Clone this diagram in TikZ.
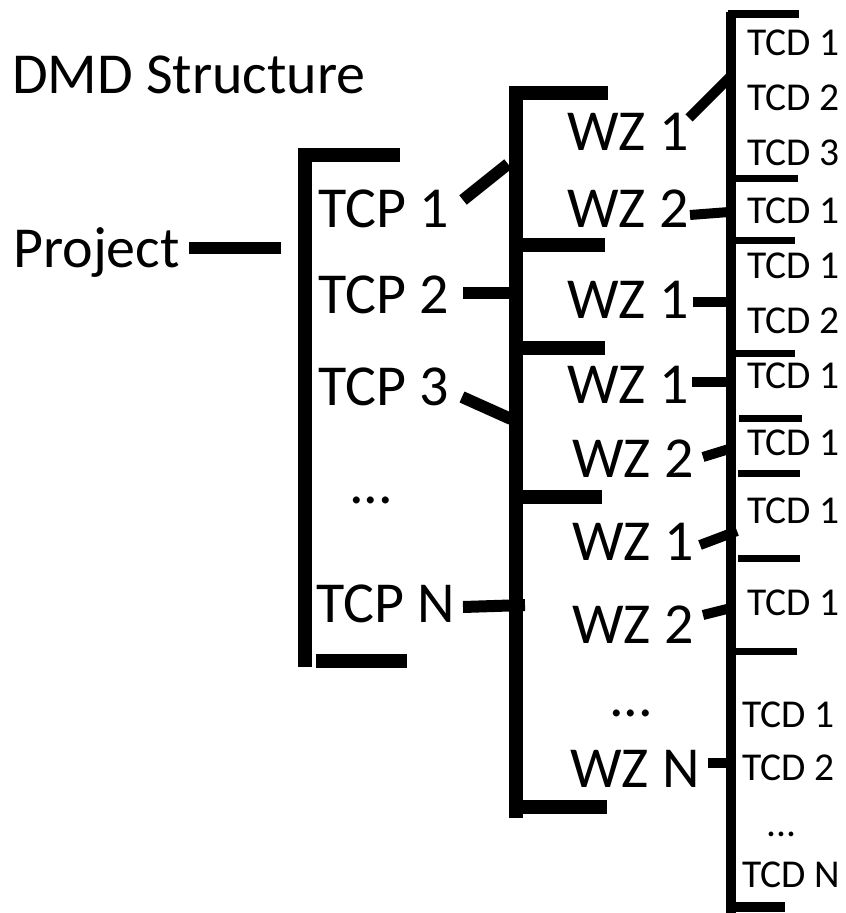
\documentclass[tikz,border=0pt]{standalone}
\usepackage{fontspec}
\setmainfont{Carlito}
\begin{document}
\begin{tikzpicture}[x=1pt,y=-1pt,
  lbl/.style={anchor=base west, inner sep=0pt, font=\fontsize{58}{60}\selectfont},
  tcd/.style={anchor=base west, inner sep=0pt, font=\fontsize{39.5}{40}\selectfont},
  bar/.style={line width=14pt},
  link/.style={line width=12pt},
  wlink/.style={line width=10pt},
  rbar/.style={line width=10pt},
  thinbar/.style={line width=7pt}]
\useasboundingbox (0,0) rectangle (846,913);

% ---- labels ----
\node[lbl] (title) at (12,93) {DMD Structure};
\node[lbl] (project) at (13,267) {Project};
\node[lbl] (tcp1) at (318,227) {TCP 1};
\node[lbl] (tcp2) at (318,313) {TCP 2};
\node[lbl] (tcp3) at (318,405) {TCP 3};
\node[lbl] (tcpdots) at (349,503) {...};
\node[lbl] (tcpn) at (316,622) {TCP N};

\node[lbl] (wz1a) at (567,150) {WZ 1};
\node[lbl] (wz2a) at (567,227) {WZ 2};
\node[lbl] (wz1b) at (567,318) {WZ 1};
\node[lbl] (wz1c) at (567,403) {WZ 1};
\node[lbl] (wz2c) at (572,477) {WZ 2};
\node[lbl] (wz1d) at (572,560) {WZ 1};
\node[lbl] (wz2d) at (572,643) {WZ 2};
\node[lbl] (wzdots) at (609,716) {...};
\node[lbl] (wzn) at (570,787) {WZ N};

\node[tcd] (d1) at (747,55) {TCD 1};
\node[tcd] (d2) at (747,110) {TCD 2};
\node[tcd] (d3) at (747,165) {TCD 3};
\node[tcd] (d4) at (747,223) {TCD 1};
\node[tcd] (d5) at (747,278) {TCD 1};
\node[tcd] (d6) at (747,333) {TCD 2};
\node[tcd] (d7) at (747,388) {TCD 1};
\node[tcd] (d8) at (747,455) {TCD 1};
\node[tcd] (d9) at (747,523) {TCD 1};
\node[tcd] (d10) at (747,615) {TCD 1};
\node[tcd] (d11) at (742,727) {TCD 1};
\node[tcd] (d12) at (742,780) {TCD 2};
\node[tcd] (ddots) at (766,836) {...};
\node[tcd] (dn) at (742,887) {TCD N};

% ---- coordinates ----
\coordinate (pj1) at (189,248); \coordinate (pj2) at (281,248);
% left bracket
\coordinate (lt) at (305,148); \coordinate (lb) at (305,667);
\coordinate (lh1) at (298,155); \coordinate (lh2) at (400,155);
\coordinate (lf1) at (316,661); \coordinate (lf2) at (407,661);
% TCP links
\coordinate (c1a) at (463,200); \coordinate (c1b) at (508,164);
\coordinate (c2a) at (463,293); \coordinate (c2b) at (512,293);
\coordinate (c3a) at (462,397); \coordinate (c3b) at (511,419);
\coordinate (cna) at (463,607); \coordinate (cnb) at (525,605);
% middle bracket
\coordinate (mt) at (516,88); \coordinate (mb) at (516,818);
\coordinate (mh1) at (509,93); \coordinate (mh2) at (608,93);
\coordinate (m1a) at (516,245); \coordinate (m1b) at (605,245);
\coordinate (m2a) at (516,348); \coordinate (m2b) at (605,348);
\coordinate (m3a) at (516,497); \coordinate (m3b) at (602,497);
\coordinate (mf1) at (509,807); \coordinate (mf2) at (607,807);
% WZ links
\coordinate (w1a) at (689,118); \coordinate (w1b) at (731,76);
\coordinate (w2a) at (690,215); \coordinate (w2b) at (729,212);
\coordinate (w3a) at (693,302); \coordinate (w3b) at (729,302);
\coordinate (w4a) at (692,382); \coordinate (w4b) at (729,382);
\coordinate (w5a) at (703,457); \coordinate (w5b) at (729,449);
\coordinate (w6a) at (700,545); \coordinate (w6b) at (737,531);
\coordinate (w7a) at (703,615); \coordinate (w7b) at (731,608);
\coordinate (w8a) at (708,763); \coordinate (w8b) at (731,763);
% right bar
\coordinate (rt) at (731,12); \coordinate (rb) at (731,913);
\coordinate (rh1) at (728,14); \coordinate (rh2) at (799,14);
\coordinate (r1a) at (733,178); \coordinate (r1b) at (798,178);
\coordinate (r2a) at (733,240); \coordinate (r2b) at (795,240);
\coordinate (r3a) at (733,353); \coordinate (r3b) at (795,353);
\coordinate (r4a) at (739,418); \coordinate (r4b) at (802,418);
\coordinate (r5a) at (738,473); \coordinate (r5b) at (800,473);
\coordinate (r6a) at (738,558); \coordinate (r6b) at (800,558);
\coordinate (r7a) at (733,651); \coordinate (r7b) at (797,651);
\coordinate (rf1) at (727,907); \coordinate (rf2) at (785,907);

% ---- lines ----
\draw[link] (pj1) -- (pj2);
\draw[bar] (lt) -- (lb);
\draw[bar] (lh1) -- (lh2);
\draw[bar] (lf1) -- (lf2);
\draw[link] (c1a) -- (c1b);
\draw[link] (c2a) -- (c2b);
\draw[link] (c3a) -- (c3b);
\draw[link] (cna) -- (cnb);

\draw[bar] (mt) -- (mb);
\draw[bar] (mh1) -- (mh2);
\draw[bar] (m1a) -- (m1b);
\draw[bar] (m2a) -- (m2b);
\draw[bar] (m3a) -- (m3b);
\draw[bar] (mf1) -- (mf2);

\draw[wlink] (w1a) -- (w1b);
\draw[wlink] (w2a) -- (w2b);
\draw[wlink] (w3a) -- (w3b);
\draw[wlink] (w4a) -- (w4b);
\draw[wlink] (w5a) -- (w5b);
\draw[wlink] (w6a) -- (w6b);
\draw[wlink] (w7a) -- (w7b);
\draw[wlink] (w8a) -- (w8b);

\draw[rbar] (rt) -- (rb);
\draw[line width=8pt] (rh1) -- (rh2);
\draw[thinbar] (r1a) -- (r1b);
\draw[thinbar] (r2a) -- (r2b);
\draw[thinbar] (r3a) -- (r3b);
\draw[thinbar] (r4a) -- (r4b);
\draw[thinbar] (r5a) -- (r5b);
\draw[thinbar] (r6a) -- (r6b);
\draw[thinbar] (r7a) -- (r7b);
\draw[rbar] (rf1) -- (rf2);
\end{tikzpicture}
\end{document}
